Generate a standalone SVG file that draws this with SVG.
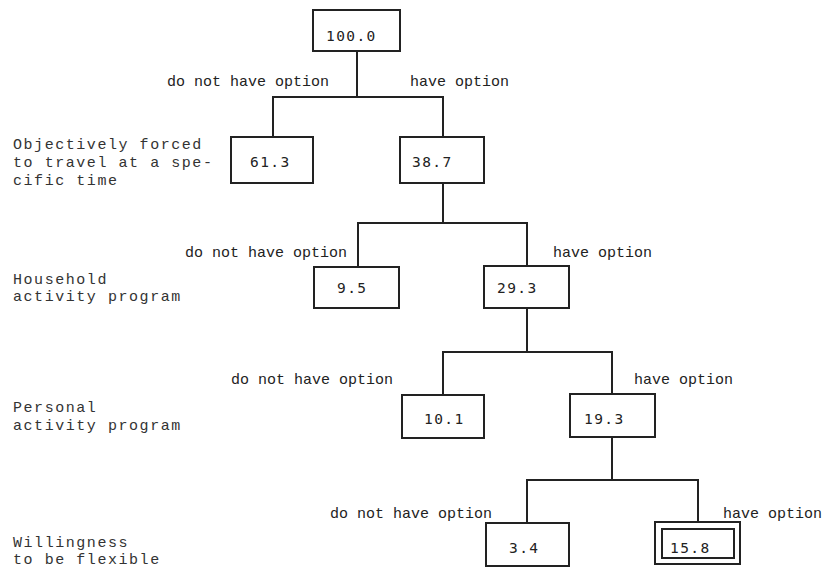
<svg xmlns="http://www.w3.org/2000/svg" width="825" height="568" viewBox="0 0 825 568">
  <style>
    .box { fill: #fff; stroke: #222; stroke-width: 2; }
    .num { font-family: "DejaVu Sans Mono", "Liberation Mono", monospace; font-size: 14.5px; letter-spacing: 1.4px; fill: #222; }
    .opt { font-family: "Liberation Mono", "Courier New", monospace; font-size: 15px; fill: #222; }
    .lvl { font-family: "Liberation Mono", "Courier New", monospace; font-size: 15px; letter-spacing: 1.55px; fill: #333; }
    .wire { fill: none; stroke: #222; stroke-width: 2; }
  </style>
  <rect width="825" height="568" fill="#fff"/>

  <!-- connectors -->
  <g id="connectors" class="wire">
    <path d="M357 51V97M273 137V97H443V137"/>
    <path d="M443 183V223M358 267V223H527V266"/>
    <path d="M527 308V352M443 395V352H612V394"/>
    <path d="M612 437V480M527 523V480H698V522"/>
  </g>

  <!-- branch labels -->
  <g id="branch-labels" class="opt">
    <text x="167" y="86">do not have option</text>
    <text x="410" y="86">have option</text>
    <text x="185" y="257">do not have option</text>
    <text x="553" y="257">have option</text>
    <text x="231" y="384">do not have option</text>
    <text x="634" y="384">have option</text>
    <text x="330" y="518">do not have option</text>
    <text x="723" y="518">have option</text>
  </g>

  <!-- level descriptions -->
  <g id="levels" class="lvl">
    <text x="13" y="149">Objectively forced</text>
    <text x="13" y="167">to travel at a spe-</text>
    <text x="13" y="185">cific time</text>
    <text x="13" y="284">Household</text>
    <text x="13" y="301">activity program</text>
    <text x="13" y="412">Personal</text>
    <text x="13" y="430">activity program</text>
    <text x="13" y="547">Willingness</text>
    <text x="13" y="564">to be flexible</text>
  </g>

  <!-- nodes -->
  <g id="n-total">
    <rect class="box" x="313" y="10" width="87" height="41"/>
    <text class="num" x="326" y="41">100.0</text>
  </g>
  <g id="n-forced">
    <rect class="box" x="231" y="137" width="82" height="46"/>
    <text class="num" x="250" y="167">61.3</text>
  </g>
  <g id="n-free1">
    <rect class="box" x="400" y="137" width="84" height="46"/>
    <text class="num" x="412" y="167">38.7</text>
  </g>
  <g id="n-household-no">
    <rect class="box" x="314" y="267" width="85" height="41"/>
    <text class="num" x="337" y="293">9.5</text>
  </g>
  <g id="n-household-yes">
    <rect class="box" x="484" y="266" width="85" height="42"/>
    <text class="num" x="497" y="293">29.3</text>
  </g>
  <g id="n-personal-no">
    <rect class="box" x="402" y="395" width="82" height="43"/>
    <text class="num" x="424" y="424">10.1</text>
  </g>
  <g id="n-personal-yes">
    <rect class="box" x="570" y="394" width="85" height="43"/>
    <text class="num" x="584" y="424">19.3</text>
  </g>
  <g id="n-flex-no">
    <rect class="box" x="486" y="523" width="83" height="43"/>
    <text class="num" x="509" y="553">3.4</text>
  </g>
  <g id="n-flex-yes">
    <rect class="box" x="655" y="522" width="85" height="42"/>
    <rect class="box" x="662" y="529" width="72" height="29"/>
    <text class="num" x="670" y="553">15.8</text>
  </g>
</svg>
